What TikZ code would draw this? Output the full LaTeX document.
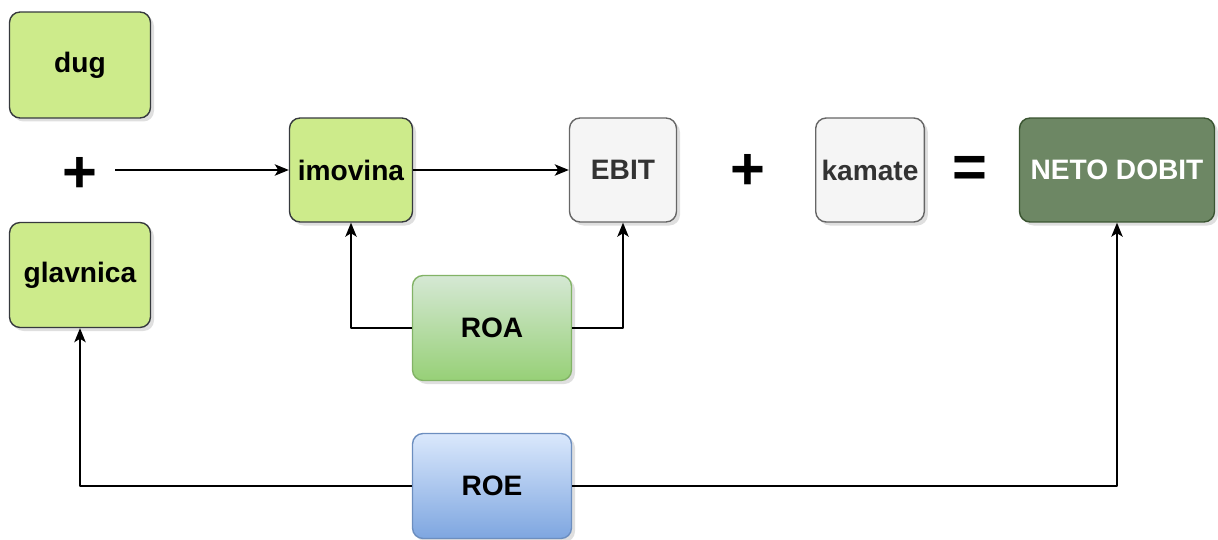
\documentclass[tikz,border=0pt]{standalone}
\usepackage{fontspec}
\setmainfont{Liberation Sans}
\usetikzlibrary{shadows,arrows.meta}
\definecolor{lgreen}{HTML}{CDEB8B}
\definecolor{lgreenline}{HTML}{36393D}
\definecolor{lgray}{HTML}{F5F5F5}
\definecolor{mgray}{HTML}{666666}
\definecolor{tgray}{HTML}{333333}
\definecolor{dgreen}{HTML}{6D8764}
\definecolor{dgreenline}{HTML}{3A5431}
\definecolor{roatop}{HTML}{D5E8D4}
\definecolor{roabot}{HTML}{97D077}
\definecolor{roaline}{HTML}{82B366}
\definecolor{roetop}{HTML}{DAE8FC}
\definecolor{roebot}{HTML}{7EA6E0}
\definecolor{roeline}{HTML}{6C8EBF}
\begin{document}
\begin{tikzpicture}[x=0.02cm, y=-0.02cm, >={Stealth[length=8pt,width=6.5pt,inset=2pt]}, line join=round,
	font=\fontsize{16}{19}\selectfont\bfseries,
	box/.style={draw, rounded corners=6pt, line width=0.8pt, align=center,
		drop shadow={shadow xshift=2pt, shadow yshift=-2pt, opacity=0.25}},
	greenbox/.style={box, fill=lgreen, draw=lgreenline},
	graybox/.style={box, fill=lgray, draw=mgray, text=tgray},
	sign/.style={font=\fontsize{34}{34}\selectfont\bfseries},
	link/.style={->, line width=0.8pt}]
	\useasboundingbox (0,0) rectangle (1218,540);
	\node[greenbox, minimum width=2.82cm, minimum height=2.12cm] (dug) at (80,65) {dug};
	\node[sign] (plusa) at (80,175) {+};
	\node[greenbox, minimum width=2.82cm, minimum height=2.1cm] (glavnica) at (80,275) {glavnica};
	\node[greenbox, minimum width=2.46cm, minimum height=2.08cm] (imovina) at (351,170) {imovina};
	\node[graybox, minimum width=2.14cm, minimum height=2.08cm] (ebit) at (623,170) {EBIT};
	\node[sign] (plusb) at (748,172) {+};
	\node[graybox, minimum width=2.12cm, minimum height=2.08cm] (kamate) at (870,170) {kamate};
	\node[sign] (jednako) at (970,172) {=};
	\node[box, fill=dgreen, draw=dgreenline, text=white, minimum width=3.9cm,
		minimum height=2.08cm] (neto) at (1117,170) {NETO DOBIT};
	\node[box, top color=roatop, bottom color=roabot, draw=roaline,
		minimum width=3.18cm, minimum height=2.1cm] (roa) at (492,328) {ROA};
	\node[box, top color=roetop, bottom color=roebot, draw=roeline,
		minimum width=3.18cm, minimum height=2.1cm] (roe) at (492,486) {ROE};
	\coordinate (start) at (115,170);
	\draw[link] (start) -- (imovina.west);
	\draw[link] (imovina.east) -- (ebit.west);
	\draw[link] (roa.west) -| (imovina.south);
	\draw[link] (roa.east) -| (ebit.south);
	\draw[link] (roe.west) -| (glavnica.south);
	\draw[link] (roe.east) -| (neto.south);
\end{tikzpicture}
\end{document}
